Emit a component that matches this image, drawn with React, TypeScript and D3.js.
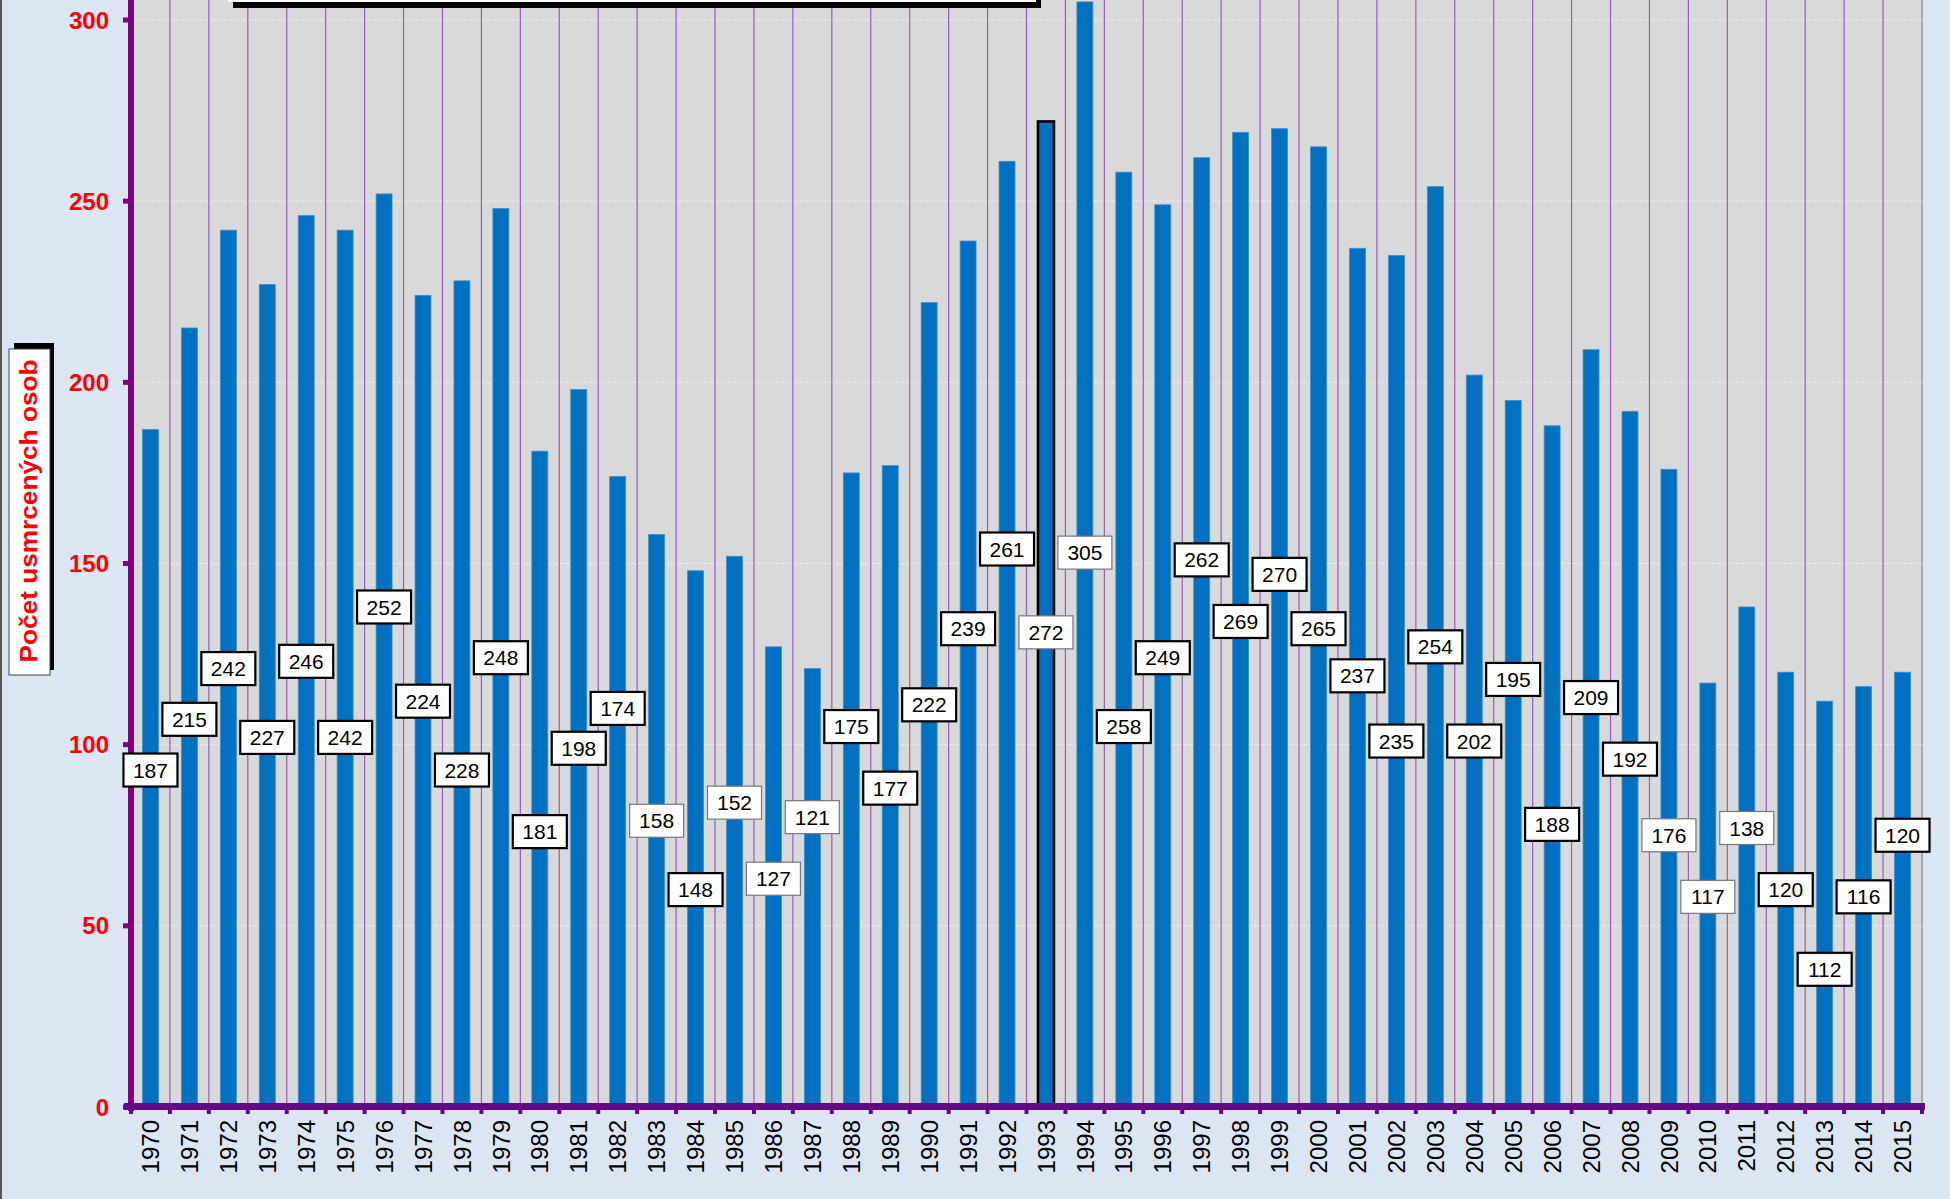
import React from 'react'
import * as d3 from 'd3'

const years = ['1970', '1971', '1972', '1973', '1974', '1975', '1976', '1977', '1978', '1979',
  '1980', '1981', '1982', '1983', '1984', '1985', '1986', '1987', '1988', '1989',
  '1990', '1991', '1992', '1993', '1994', '1995', '1996', '1997', '1998', '1999',
  '2000', '2001', '2002', '2003', '2004', '2005', '2006', '2007', '2008', '2009',
  '2010', '2011', '2012', '2013', '2014', '2015']

const deaths = [187, 215, 242, 227, 246, 242, 252, 224, 228, 248,
  181, 198, 174, 158, 148, 152, 127, 121, 175, 177,
  222, 239, 261, 272, 305, 258, 249, 262, 269, 270,
  265, 237, 235, 254, 202, 195, 188, 209, 192, 176,
  117, 138, 120, 112, 116, 120]

// where the value box sits (in axis units), as placed in the original
const labelAt = [93, 107, 121, 102, 123, 102, 138, 112, 93, 124,
  76, 99, 110, 79, 60, 84, 63, 80, 105, 88,
  111, 132, 154, 131, 153, 105, 124, 151, 134, 147,
  132, 119, 101, 127, 101, 118, 78, 113, 96, 75,
  58, 77, 60, 38, 58, 75]

const yTicks = [0, 50, 100, 150, 200, 250, 300]
const thinBoxYears = ['1983', '1985', '1986', '1987', '1993', '1994', '2009', '2010', '2011']
const markedYear = '1993'
const yTitle = 'Počet usmrcených osob'

const W = 1950, H = 1199
const font = 'Liberation Sans, Arial, sans-serif'

export default function App() {
  const x = d3.scaleBand().domain(years).range([131, 1922]).paddingInner(0.59).paddingOuter(0.295)
  const y = d3.scaleLinear().domain([0, 300]).range([1107, 20])
  const step = x.step()
  const bw = x.bandwidth()

  return (
    <svg width={W} height={H} style={{ position: 'absolute', left: 0, top: 0 }} fontFamily={font}>
      <rect x={0} y={0} width={W} height={H} fill="#dce6f2" />
      <line x1={1} x2={1} y1={0} y2={H} stroke="#555" strokeWidth={2} />

      {/* plot area */}
      <rect x={133} y={0} width={1789} height={y(0)} fill="#d9d9d9" />
      <line x1={1922} x2={1922} y1={0} y2={y(0)} stroke="#999" strokeWidth={1.5} />
      {yTicks.slice(1).map(t => (
        <line key={t} x1={133} x2={1922} y1={y(t)} y2={y(t)} stroke="#ececec" strokeWidth={1} strokeDasharray="4 2" />
      ))}
      {years.slice(1).map((yr, i) => (
        <line key={yr} x1={131 + (i + 1) * step} x2={131 + (i + 1) * step} y1={0} y2={y(0)} stroke="#9a5cc0" strokeWidth={1.2} />
      ))}

      {/* title box, cut off at top */}
      <rect x={233} y={-40} width={808} height={48} fill="#000" />
      <rect x={228} y={-40} width={808} height={42} fill="#fff" />

      {/* bars */}
      {years.map((yr, i) => (
        <rect key={yr} x={x(yr)} y={y(deaths[i])} width={bw} height={y(0) - y(deaths[i])}
          fill="#0070c0"
          stroke={yr === markedYear ? '#000' : '#3d8ed0'}
          strokeWidth={yr === markedYear ? 2.6 : 0.8} />
      ))}

      {/* axes */}
      <line x1={131} x2={131} y1={0} y2={1111} stroke="#800080" strokeWidth={6} />
      {yTicks.map(t => (
        <g key={t}>
          <line x1={123} x2={131} y1={y(t)} y2={y(t)} stroke="#800080" strokeWidth={5} />
          <text x={109} y={y(t)} dy="0.36em" textAnchor="end" fill="#ff0000" fontWeight="bold" fontSize={24}>{t}</text>
        </g>
      ))}
      <line x1={124} x2={1925} y1={1106.5} y2={1106.5} stroke="#620a86" strokeWidth={7} />
      {years.map((yr, i) => (
        <rect key={yr} x={131 + (i + 1) * step - 2} y={1110} width={4} height={4} fill="#620a86" />
      ))}
      <rect x={129} y={1110} width={4} height={4} fill="#620a86" />
      {years.map(yr => (
        <text key={yr} transform={`translate(${(x(yr) as number) + bw / 2},1120) rotate(-90)`}
          textAnchor="end" dy="0.36em" fontSize={24} fill="#000">{yr}</text>
      ))}

      {/* value boxes */}
      {years.map((yr, i) => {
        const cx = (x(yr) as number) + bw / 2
        const cy = y(labelAt[i])
        const thin = thinBoxYears.includes(yr)
        return (
          <g key={yr}>
            <rect x={cx - 27} y={cy - 16.5} width={54} height={33} fill="#fff"
              stroke={thin ? '#777' : '#000'} strokeWidth={thin ? 1.2 : 2.2} />
            <text x={cx} y={cy} dy="0.36em" textAnchor="middle" fontSize={21} fill="#000">{deaths[i]}</text>
          </g>
        )
      })}

      {/* y axis title */}
      <rect x={14} y={343} width={40} height={327} fill="#000" />
      <rect x={9} y={349} width={41} height={326} fill="#fff" stroke="#444" strokeWidth={1} />
      <text transform="translate(37,511) rotate(-90)" textAnchor="middle" fontSize={24} fontWeight="bold"
        fill="#ff0000" textLength={303} lengthAdjust="spacingAndGlyphs">{yTitle}</text>
    </svg>
  )
}
